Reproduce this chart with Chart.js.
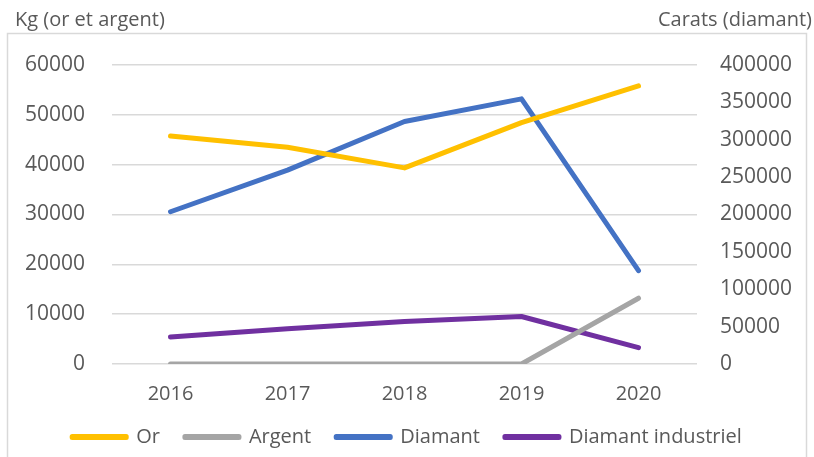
<!DOCTYPE html>
<html>
<head>
<meta charset="utf-8">
<script src="https://cdn.jsdelivr.net/npm/chart.js@4"></script>
<style>
  html, body { margin: 0; padding: 0; background: #ffffff; }
  #wrap { width: 814px; height: 457px; }
</style>
</head>
<body>
<div id="wrap"><canvas id="line"></canvas></div>
<script>
// years on the x axis
var years = ['2016', '2017', '2018', '2019', '2020'];

// Kg, left axis
var orValues = [45750, 43500, 39350, 48450, 55800];
var argentValues = [0, 0, 0, 0, 13200];

// carats, right axis
var diamantValues = [203700, 259300, 324500, 354700, 124800];
var diamantIndValues = [36000, 47100, 56900, 63500, 21800];

var leftTitle = 'Kg (or et argent)';
var rightTitle = 'Carats (diamant)';

var textColor = '#595959';
var fontFamily = '"Open Sans", "Noto Sans", sans-serif';

// chart frame and axis titles above the plot
var framePlugin = {
    id: 'frame',
    beforeDraw: function(chart) {
        var ctx = chart.ctx;
        ctx.save();
        ctx.strokeStyle = '#D9D9D9';
        ctx.lineWidth = 1.5;
        ctx.strokeRect(7.5, 33.5, 799, 440);
        ctx.restore();
    },
    afterDraw: function(chart) {
        var ctx = chart.ctx;
        ctx.save();
        ctx.fillStyle = textColor;
        ctx.font = '20px ' + fontFamily;
        ctx.textBaseline = 'middle';
        ctx.textAlign = 'left';
        ctx.fillText(leftTitle, 15, 20);
        ctx.textAlign = 'right';
        ctx.fillText(rightTitle, 812, 20);
        ctx.restore();
    }
};

function makeLine(label, data, color, axis) {
    return {
        label: label,
        data: data,
        borderColor: color,
        backgroundColor: color,
        borderWidth: 5,
        borderCapStyle: 'round',
        borderJoinStyle: 'round',
        pointRadius: 0,
        pointHoverRadius: 0,
        tension: 0,
        fill: false,
        yAxisID: axis
    };
}

// plain numbers, no thousands separator
function plain(value) { return String(value); }

var ctx = document.getElementById('line').getContext('2d');

var myChart = new Chart(ctx, {
    type: 'line',
    data: {
        labels: years,
        datasets: [
            makeLine('Or', orValues, '#FFC000', 'yKg'),
            makeLine('Argent', argentValues, '#A5A5A5', 'yKg'),
            makeLine('Diamant', diamantValues, '#4472C4', 'yCarats'),
            makeLine('Diamant industriel', diamantIndValues, '#7030A0', 'yCarats')
        ]
    },
    options: {
        responsive: true,
        maintainAspectRatio: false,
        animation: false,
        layout: {
            padding: { top: 65, bottom: 0, left: 0, right: 0 }
        },
        plugins: {
            tooltip: { enabled: false },
            legend: {
                position: 'bottom',
                labels: {
                    color: textColor,
                    font: { family: fontFamily, size: 20 },
                    boxWidth: 54,
                    boxHeight: 1,
                    padding: 25
                }
            }
        },
        scales: {
            x: {
                offset: true,
                grid: { display: false },
                border: { display: false },
                ticks: {
                    color: textColor,
                    font: { family: fontFamily, size: 20 },
                    padding: 10,
                    maxRotation: 0
                },
                afterFit: function(scale) { scale.height = 38; }
            },
            yKg: {
                position: 'left',
                min: 0,
                max: 60000,
                grid: { color: '#D9D9D9', lineWidth: 1.5, drawTicks: false },
                border: { display: false },
                ticks: {
                    stepSize: 10000,
                    color: textColor,
                    font: { family: fontFamily, size: 21 },
                    padding: 27,
                    callback: plain
                },
                afterFit: function(scale) { scale.width = 112; }
            },
            yCarats: {
                position: 'right',
                min: 0,
                max: 400000,
                grid: { drawOnChartArea: false, drawTicks: false },
                border: { display: false },
                ticks: {
                    stepSize: 50000,
                    color: textColor,
                    font: { family: fontFamily, size: 21 },
                    padding: 23,
                    callback: plain
                },
                afterFit: function(scale) { scale.width = 117; }
            }
        }
    },
    plugins: [framePlugin]
});
</script>
</body>
</html>
